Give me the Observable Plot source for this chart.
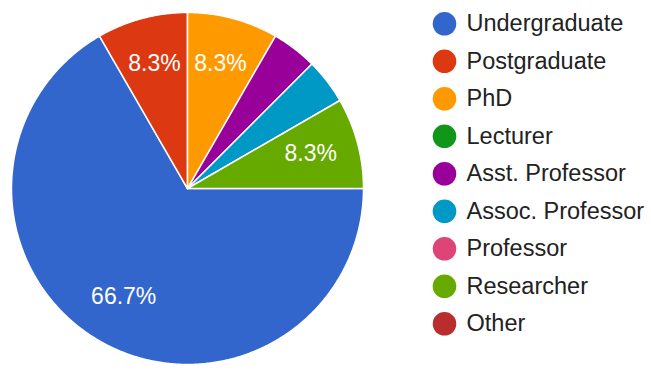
<!DOCTYPE html>
<html>
<head>
<meta charset="utf-8">
<script src="https://cdn.jsdelivr.net/npm/d3@7"></script>
<script src="https://cdn.jsdelivr.net/npm/@observablehq/plot@0.6"></script>
<style>
  html, body { margin: 0; padding: 0; background: #fff; }
  #chart { display: flex; width: 651px; height: 375px; }
  svg { font-family: "Liberation Sans", Arial, sans-serif; }
</style>
</head>
<body>
<div id="chart"></div>
<script>
const categories = ["Undergraduate", "Postgraduate", "PhD", "Lecturer", "Asst. Professor", "Assoc. Professor", "Professor", "Researcher", "Other"];
const counts = [16, 2, 2, 0, 1, 1, 0, 2, 0];
const colors = ["#3366cc", "#dc3912", "#ff9900", "#109618", "#990099", "#0099c6", "#dd4477", "#66aa00", "#b82e2e"];

const data = categories.map((c, i) => ({category: c, count: counts[i], index: i}));
const total = d3.sum(counts);

const arcs = d3.pie().sort(null).value(d => d.count)
  .startAngle(Math.PI / 2).endAngle(Math.PI / 2 + 2 * Math.PI)(data)
  .filter(a => a.data.count > 0);

// polygon outlines of each slice (angle measured clockwise from 12 o'clock)
const poly = [];
for (const a of arcs) {
  const n = Math.max(2, Math.ceil((a.endAngle - a.startAngle) / (Math.PI / 360)));
  poly.push({category: a.data.category, x: 0, y: 0});
  for (let k = 0; k <= n; k++) {
    const t = a.startAngle + (a.endAngle - a.startAngle) * k / n;
    poly.push({category: a.data.category, x: Math.sin(t), y: Math.cos(t)});
  }
  poly.push({category: a.data.category, x: 0, y: 0});
}

const labelR = 0.725;
const labels = arcs
  .filter(a => a.data.count / total > 0.05)
  .map(a => {
    const m = (a.startAngle + a.endAngle) / 2;
    return {x: labelR * Math.sin(m), y: labelR * Math.cos(m),
            text: (a.data.count / total * 100).toFixed(1) + "%"};
  });

const color = {domain: categories, range: colors};
const font = "'Liberation Sans', Arial, sans-serif";

const pie = Plot.plot({
  width: 375, height: 375,
  marginLeft: 11, marginRight: 12, marginTop: 12, marginBottom: 11,
  x: {domain: [-1, 1], axis: null},
  y: {domain: [-1, 1], axis: null},
  color,
  style: {background: "white", fontFamily: font},
  marks: [
    Plot.line(poly, {x: "x", y: "y", z: "category", fill: "category", stroke: "white", strokeWidth: 1.5, strokeLinejoin: "round", curve: "linear"}),
    Plot.text(labels, {x: "x", y: "y", text: "text", fill: "white", fontSize: 23, textAnchor: "middle", lineAnchor: "middle", dy: -2})
  ]
});

const legend = Plot.plot({
  width: 276, height: 375,
  marginLeft: 69, marginRight: 185, marginTop: 23.3, marginBottom: 51.7,
  x: {domain: [0, 1], axis: null},
  y: {domain: [0, categories.length - 1], reverse: true, axis: null},
  color,
  style: {background: "white", fontFamily: font},
  marks: [
    Plot.dot(data, {x: () => 0, y: "index", r: 11.8, fill: "category", stroke: null}),
    Plot.text(data, {x: () => 1, y: "index", text: "category", fill: "#222222", fontSize: 23.5, textAnchor: "start", lineAnchor: "middle"})
  ]
});

document.getElementById("chart").append(pie, legend);
</script>
</body>
</html>
